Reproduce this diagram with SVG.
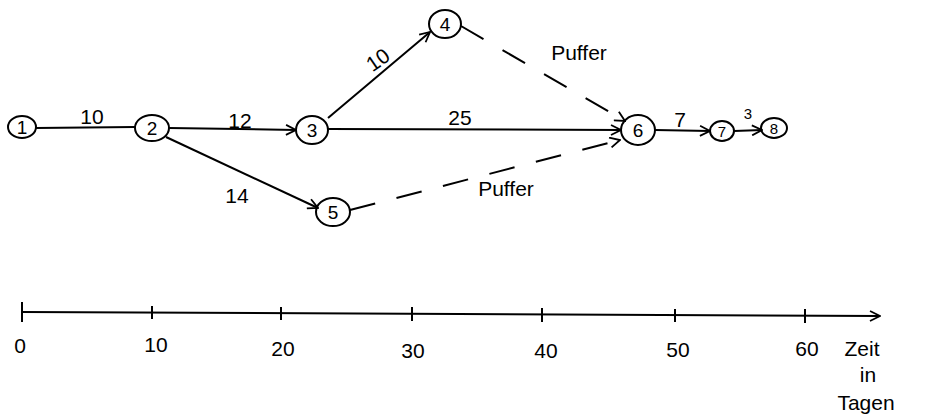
<svg xmlns="http://www.w3.org/2000/svg" width="936" height="419" viewBox="0 0 936 419">
<style>
.n ellipse{fill:none;stroke:#000;stroke-width:2}
.n text{font-family:"Liberation Sans",Arial,sans-serif;font-size:19px;text-anchor:middle;dominant-baseline:central;fill:#000}
.e line{stroke:#000;stroke-width:2;fill:none}
.d{stroke-dasharray:26 22}
.l{font-family:"Liberation Sans",Arial,sans-serif;font-size:21px;fill:#000;text-anchor:middle}
.ax{stroke:#000;stroke-width:2;fill:none}
</style>
<defs>
<marker id="ah" viewBox="0 0 12 12" refX="11" refY="6" markerWidth="12" markerHeight="12" markerUnits="userSpaceOnUse" orient="auto">
<path d="M1,1 L11,6 L1,11" fill="none" stroke="#000" stroke-width="1.8"/>
</marker>
</defs>
<rect width="936" height="419" fill="#fff"/>
<g id="connectors" class="e">
<line x1="36" y1="128" x2="135" y2="127"/>
<line x1="169" y1="128" x2="296" y2="130" marker-end="url(#ah)"/>
<line x1="166" y1="137" x2="318" y2="208" marker-end="url(#ah)"/>
<line x1="328" y1="118" x2="430" y2="32" marker-end="url(#ah)"/>
<line x1="328" y1="129" x2="621" y2="130" marker-end="url(#ah)"/>
<line class="d" x1="461" y1="26" x2="625" y2="121" marker-end="url(#ah)"/>
<line class="d" x1="350" y1="210" x2="620" y2="140" marker-end="url(#ah)"/>
<line x1="655" y1="130" x2="710" y2="131" marker-end="url(#ah)"/>
<line x1="734" y1="131" x2="762" y2="130" marker-end="url(#ah)"/>
</g>
<g id="edge-labels">
<text class="l" x="92" y="124">10</text>
<text class="l" x="240" y="128">12</text>
<text class="l" x="237" y="203">14</text>
<text class="l" x="378" y="67" transform="rotate(-35 378 60)">10</text>
<text class="l" x="460" y="125">25</text>
<text class="l" x="579" y="60">Puffer</text>
<text class="l" x="506" y="196">Puffer</text>
<text class="l" x="680" y="127">7</text>
<text class="l" x="748" y="119" style="font-size:15px">3</text>
</g>
<g id="node1" class="n"><ellipse cx="22" cy="127" rx="14" ry="11"/><text x="22" y="127">1</text></g>
<g id="node2" class="n"><ellipse cx="152" cy="128" rx="17" ry="13"/><text x="152" y="128">2</text></g>
<g id="node3" class="n"><ellipse cx="312" cy="130" rx="16" ry="14"/><text x="312" y="130">3</text></g>
<g id="node4" class="n"><ellipse cx="445" cy="24" rx="16" ry="14"/><text x="445" y="24">4</text></g>
<g id="node5" class="n"><ellipse cx="333" cy="212" rx="17" ry="14"/><text x="333" y="212">5</text></g>
<g id="node6" class="n"><ellipse cx="638" cy="130" rx="17" ry="15"/><text x="638" y="130">6</text></g>
<g id="node7" class="n"><ellipse cx="722" cy="131" rx="12" ry="10"/><text x="722" y="131" style="font-size:15px">7</text></g>
<g id="node8" class="n"><ellipse cx="774" cy="128" rx="13" ry="10"/><text x="774" y="128" style="font-size:15px">8</text></g>
<g id="axis">
<line class="ax" x1="22" y1="312" x2="880" y2="316" marker-end="url(#ah)"/>
<line class="ax" x1="22" y1="302" x2="22" y2="322"/>
<line class="ax" x1="152" y1="306" x2="152" y2="319"/>
<line class="ax" x1="281" y1="307" x2="281" y2="320"/>
<line class="ax" x1="412" y1="307" x2="412" y2="321"/>
<line class="ax" x1="542" y1="308" x2="542" y2="322"/>
<line class="ax" x1="675" y1="309" x2="675" y2="322"/>
<line class="ax" x1="805" y1="309" x2="805" y2="323"/>
<text class="l" x="20" y="353">0</text>
<text class="l" x="156" y="352">10</text>
<text class="l" x="283" y="356">20</text>
<text class="l" x="413" y="358">30</text>
<text class="l" x="546" y="358">40</text>
<text class="l" x="678" y="357">50</text>
<text class="l" x="807" y="356">60</text>
<text class="l" x="862" y="356">Zeit</text>
<text class="l" x="868" y="382">in</text>
<text class="l" x="866" y="410">Tagen</text>
</g>
</svg>
